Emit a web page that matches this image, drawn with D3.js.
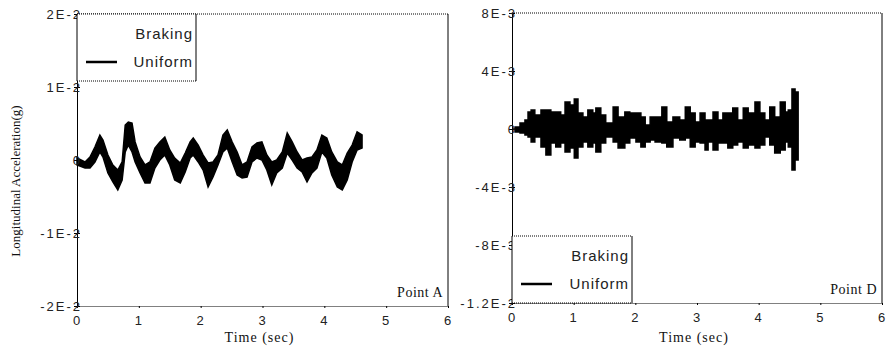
<!DOCTYPE html>
<html>
<head>
<meta charset="utf-8">
<script src="https://cdn.jsdelivr.net/npm/d3@7/dist/d3.min.js"></script>
<style>
  body { margin: 0; background: #fff; }
  .tick-label { font-family: "Liberation Sans", Arial, sans-serif; font-size: 13px; letter-spacing: 2px; fill: #222; }
  .serif { font-family: "Liberation Serif", "Times New Roman", serif; fill: #111; }
  .legend-text { font-family: "Liberation Sans", Arial, sans-serif; font-size: 15px; letter-spacing: 1px; fill: #222; }
</style>
</head>
<body>
<div id="chart"></div>
<script>
// ---- data (time in sec, acceleration in units of 1E-3 g) ----
// Point A : upper / lower edges of the recorded band
const timeA = [0, 0.13, 0.21, 0.29, 0.37, 0.42, 0.50, 0.58, 0.66, 0.73,
  0.78, 0.83, 0.89, 0.94, 1.02, 1.10, 1.18, 1.26, 1.34, 1.42,
  1.50, 1.58, 1.67, 1.75, 1.83, 1.88, 1.96, 2.04, 2.12, 2.20,
  2.28, 2.36, 2.43, 2.51, 2.59, 2.67, 2.75, 2.83, 2.91, 2.99,
  3.07, 3.15, 3.23, 3.32, 3.40, 3.48, 3.56, 3.64, 3.72, 3.80,
  3.88, 3.96, 4.04, 4.12, 4.21, 4.29, 4.37, 4.45, 4.53, 4.61];
const upperA = [0.28, -0.27, 0.41, 1.78, 3.42, 2.74, 0.68, -0.68, -1.37, -0.27,
  4.79, 5.21, 5.07, 2.47, 0.41, -0.68, -0.27, 1.64, 2.47, 3.15,
  1.37, 0.27, -0.41, 0.96, 2.47, 3.01, 2.05, 0.68, -0.41, -0.27,
  0.68, 3.42, 4.11, 2.47, 1.10, -0.68, -0.27, 1.78, 2.33, 2.47,
  0.68, -0.27, 0, 1.10, 3.70, 2.47, 1.10, 0, 0.27, 0.41,
  1.37, 3.42, 3.01, 1.10, -0.27, -0.68, 0.96, 2.05, 3.84, 3.42];
const lowerA = [-0.68, -1.10, -1.10, -0.27, 1.10, 0.41, -1.78, -3.01, -4.11, -2.74,
  1.10, 2.05, 1.10, -0.27, -1.78, -3.15, -3.15, -1.10, 0, 0.68,
  -0.68, -2.74, -3.15, -1.64, 0.27, 0.68, -0.27, -1.37, -3.70, -2.33,
  -0.68, 1.10, 1.64, -0.27, -2.05, -2.47, -2.33, -0.27, 0.27, 0,
  -1.37, -3.42, -1.78, -1.10, 0.96, 0, -1.10, -1.64, -3.01, -1.78,
  -1.10, 1.10, 0.27, -2.05, -3.70, -4.11, -2.74, -0.27, 1.37, 1.64];

// Point D
const timeD = [0, 0.05, 0.13, 0.21, 0.26, 0.31, 0.37, 0.47, 0.55, 0.63,
  0.71, 0.79, 0.86, 0.94, 1.01, 1.07, 1.15, 1.23, 1.31, 1.36,
  1.44, 1.52, 1.64, 1.72, 1.83, 1.91, 2.01, 2.09, 2.16, 2.24,
  2.32, 2.43, 2.51, 2.61, 2.72, 2.81, 2.89, 2.97, 3.05, 3.13,
  3.18, 3.26, 3.34, 3.42, 3.50, 3.58, 3.66, 3.75, 3.83, 3.94,
  4.02, 4.10, 4.18, 4.26, 4.35, 4.43, 4.48, 4.54, 4.59, 4.64];
const upperD = [0, 0.14, 0.41, 0.62, 1.17, 1.31, 0.97, 1.31, 1.31, 1.17,
  1.17, 0.97, 1.86, 1.66, 2.07, 1.10, 0.83, 1.31, 1.10, 1.45,
  0.97, 0.41, 1.52, 0.83, 1.17, 1.10, 1.10, 0.83, 0.28, 0.83,
  0.83, 1.52, 0.48, 0.83, 0.62, 1.52, 1.10, 0.48, 1.10, 0.62,
  0.62, 1.17, 0.62, 1.10, 1.10, 1.45, 0.62, 1.45, 1.10, 1.86,
  1.10, 0.62, 1.52, 0.83, 1.86, 1.17, 1.31, 2.76, 2.55, 1.31];
const lowerD = [0, -0.21, -0.28, -0.41, -0.55, -0.90, -0.55, -1.24, -1.79, -0.97,
  -1.24, -0.97, -1.59, -1.31, -2.00, -1.24, -0.90, -1.24, -0.97, -1.59,
  -0.97, -0.55, -0.90, -1.31, -0.97, -0.62, -0.90, -1.24, -0.90, -0.76,
  -0.90, -0.97, -1.24, -0.62, -0.76, -0.62, -1.24, -0.90, -0.97, -1.45,
  -0.90, -1.45, -0.97, -0.97, -1.31, -1.10, -0.90, -1.31, -1.10, -1.31,
  -1.10, -0.55, -1.10, -1.66, -1.45, -0.90, -1.24, -2.83, -2.14, -0.10];

// axes
const xTicks = [0, 1, 2, 3, 4, 5, 6];
const yTicksA = [20, 10, 0, -10, -20];
const yLabelsA = ["2E-2", "1E-2", "0", "-1E-2", "-2E-2"];
const yTicksD = [8, 4, 0, -4, -8, -12];
const yLabelsD = ["8E-3", "4E-3", "0", "-4E-3", "-8E-3", "-1.2E-2"];
const legendItems = ["Braking", "Uniform"];

// ---- chart ----
const svg = d3.select("#chart").append("svg")
  .attr("width", 890).attr("height", 350);

function draw_panel(p) {

  // scales
  const xScale = d3.scaleLinear().domain([0, 6]).range([p.left, p.right]);
  const yScale = d3.scaleLinear().domain(p.yDomain).range([p.bottom, p.top]);

  const g = svg.append("g");

  // frame: dotted top, solid right
  g.append("line").attr("x1", p.left).attr("x2", p.right).attr("y1", p.top).attr("y2", p.top)
    .attr("stroke", "#000").attr("stroke-dasharray", "1,1");
  g.append("line").attr("x1", p.right).attr("x2", p.right).attr("y1", p.top).attr("y2", p.bottom)
    .attr("stroke", "#000");

  // band
  const data = p.time.map((t, i) => ({ t: t, hi: p.upper[i], lo: p.lower[i] }));
  const area = d3.area()
    .curve(p.curve)
    .x(d => xScale(d.t))
    .y0(d => yScale(d.lo))
    .y1(d => yScale(d.hi));
  g.append("path").datum(data)
    .attr("d", area)
    .attr("fill", "#000")
    .attr("stroke", "#000")
    .attr("stroke-width", 1.5);

  // x axis
  const xAxisGroup = g.append("g").attr("transform", `translate(0,${p.bottom})`)
    .call(d3.axisBottom(xScale).tickValues(xTicks).tickSize(2).tickPadding(8).tickSizeOuter(0)
      .tickFormat(d3.format("d")));
  xAxisGroup.select(".domain").attr("stroke-dasharray", "1,1");
  xAxisGroup.selectAll("text").attr("class", "tick-label").attr("letter-spacing", 0);

  // y axis
  const yAxisGroup = g.append("g").attr("transform", `translate(${p.left},0)`)
    .call(d3.axisLeft(yScale).tickValues(p.yTicks).tickSize(3).tickPadding(-8).tickSizeOuter(0)
      .tickFormat((d, i) => p.yLabels[i]));
  yAxisGroup.selectAll("text").attr("class", "tick-label");
  yAxisGroup.selectAll(".tick line").attr("x2", 3).attr("x1", -3);

  // x title
  g.append("text").attr("class", "serif")
    .attr("x", (p.left + p.right) / 2 - 3).attr("y", 342)
    .attr("text-anchor", "middle").attr("font-size", 14).attr("letter-spacing", 1)
    .text("Time (sec)");

  // point label
  g.append("text").attr("class", "serif")
    .attr("x", p.right - 5).attr("y", p.bottom - 9)
    .attr("text-anchor", "end").attr("font-size", 14).attr("letter-spacing", 0.5)
    .text(p.name);

  // legend
  const lg = g.append("g");
  const lh = 67;
  lg.append("rect").attr("x", p.left).attr("y", p.legend.y)
    .attr("width", p.legend.w).attr("height", lh)
    .attr("fill", "#fff").attr("stroke", "none");
  lg.append("line").attr("x1", p.left + p.legend.w).attr("x2", p.left + p.legend.w)
    .attr("y1", p.legend.y).attr("y2", p.legend.y + lh).attr("stroke", "#000");
  lg.append("line").attr("x1", p.left).attr("x2", p.left + p.legend.w)
    .attr("y1", p.legend.y).attr("y2", p.legend.y).attr("stroke", "#000").attr("stroke-dasharray", "1,1");
  lg.append("line").attr("x1", p.left).attr("x2", p.left + p.legend.w)
    .attr("y1", p.legend.y + lh).attr("y2", p.legend.y + lh).attr("stroke", "#000").attr("stroke-dasharray", "1,1");
  lg.append("line").attr("x1", p.left).attr("x2", p.left)
    .attr("y1", p.legend.y).attr("y2", p.legend.y + lh).attr("stroke", "#000");
  lg.selectAll(".legend-text").data(legendItems).join("text")
    .attr("class", "legend-text")
    .attr("x", p.left + p.legend.w - 3)
    .attr("y", (d, i) => p.legend.y + 25 + i * 28)
    .attr("text-anchor", "end")
    .text(d => d);
  lg.append("line")
    .attr("x1", p.left + 9).attr("x2", p.left + 40)
    .attr("y1", p.legend.y + 48).attr("y2", p.legend.y + 48)
    .attr("stroke", "#000").attr("stroke-width", 2.5);
}

draw_panel({
  name: "Point A", left: 77, right: 448, top: 14, bottom: 306,
  yDomain: [-20, 20], yTicks: yTicksA, yLabels: yLabelsA,
  time: timeA, upper: upperA, lower: lowerA, curve: d3.curveLinear,
  legend: { y: 14, w: 119 }
});

draw_panel({
  name: "Point D", left: 512, right: 882, top: 13, bottom: 303,
  yDomain: [-12, 8], yTicks: yTicksD, yLabels: yLabelsD,
  time: timeD, upper: upperD, lower: lowerD, curve: d3.curveStepAfter,
  legend: { y: 236, w: 120 }
});

// y title
svg.append("text").attr("class", "serif")
  .attr("transform", "translate(20,181) rotate(-90)")
  .attr("text-anchor", "middle").attr("font-size", 13)
  .text("Longitudinal Acceleration(g)");
</script>
</body>
</html>
